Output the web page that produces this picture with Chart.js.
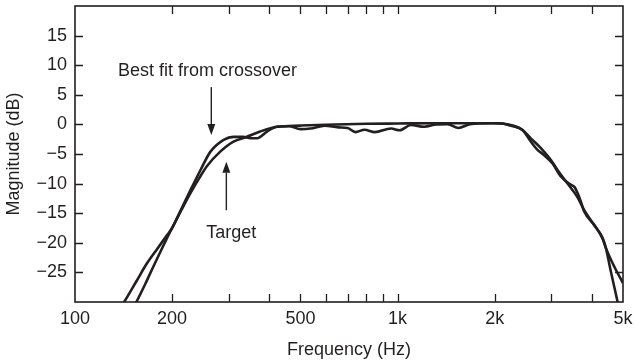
<!DOCTYPE html>
<html>
<head>
<meta charset="utf-8">
<script src="https://cdn.jsdelivr.net/npm/chart.js@4/dist/chart.umd.min.js"></script>
<style>
  html, body { margin: 0; padding: 0; background: #ffffff; }
  #wrap { width: 634px; height: 363px; }
  canvas { display: block; }
</style>
</head>
<body>
<div id="wrap"><canvas id="c" width="634" height="363"></canvas></div>
<script>
// ---- data ----
const xTickValues = [100, 200, 500, 1000, 2000, 5000];
const xTickLabels = ['100', '200', '500', '1k', '2k', '5k'];
const xMinorTicks = [300, 400, 600, 700, 800, 900, 3000, 4000];
const yTickValues = [15, 10, 5, 0, -5, -10, -15, -20, -25];
const yTickLabels = ['15', '10', '5', '0', '\u22125', '\u221210', '\u221215', '\u221220', '\u221225'];

const bestFitFreq = [138, 142, 155, 167, 180, 193, 200, 214, 228, 245, 263, 289, 310, 332, 350, 367, 394, 423, 460, 500, 537, 595, 655, 700, 740, 790, 850, 955, 1015, 1100, 1210, 1320, 1430, 1545, 1680, 1950, 2090, 2240, 2440, 2588, 2716, 2848, 3023, 3208, 3446, 3540, 3615, 3700, 3790, 4071, 4323, 4426, 4587, 4812, 4900];
const bestFitDb   = [-31, -30, -26.5, -23.5, -21.0, -18.7, -17.5, -14.2, -11.1, -7.7, -4.6, -2.6, -2.1, -2.1, -2.35, -2.35, -1.2, -0.4, -0.3, -0.8, -0.7, -0.2, -0.5, -0.6, -1.3, -0.9, -1.3, -0.7, -1.0, -0.1, -0.4, 0.0, 0.05, -0.6, 0.05, 0.2, 0.2, -0.2, -0.95, -2.9, -4.3, -5.2, -6.6, -8.8, -10.2, -10.6, -11.6, -13.0, -14.7, -17.0, -19.2, -20.9, -24.9, -30, -32];

const targetFreq = [150, 155, 165, 175, 187, 200, 214, 228, 242, 256, 282, 310, 341, 375, 423, 500, 600, 800, 1000, 1300, 1700, 2000, 2243, 2440, 2588, 2782, 2988, 3133, 3365, 3615, 3790, 4071, 4323, 4426, 4696, 5000];
const targetDb   = [-31.5, -30, -27.0, -24.0, -20.7, -17.5, -14.4, -11.6, -9.2, -7.1, -4.6, -2.9, -2.1, -1.2, -0.4, -0.2, -0.05, 0.1, 0.15, 0.2, 0.2, 0.2, -0.1, -0.95, -2.35, -4.0, -6.0, -7.7, -10.0, -12.3, -14.5, -17.0, -19.3, -20.9, -24.0, -26.8];

// ---- styling ----
const INK = '#231f20';
const FONT_FAMILY = "'Liberation Sans', Arial, Helvetica, sans-serif";
Chart.defaults.font.family = FONT_FAMILY;
Chart.defaults.font.size = 18;
Chart.defaults.color = INK;

const toPoints = (xs, ys) => xs.map((x, i) => ({ x: x, y: ys[i] }));

// annotations, anchored in data coordinates
const annotations = [
  { text: 'Best fit from crossover', textX: 136, textY: 8.2, arrowX: 264.6, arrowFrom: 6.3, arrowTo: -1.8 },
  { text: 'Target', textX: 255, textY: -19.2, arrowX: 294.6, arrowFrom: -14.5, arrowTo: -6.3 }
];

const framePlugin = {
  id: 'frameTicks',
  afterDatasetsDraw(chart) {
    const { ctx, chartArea: a, scales } = chart;
    const xs = scales.x, ys = scales.y;
    const tl = 8;
    ctx.save();
    ctx.strokeStyle = INK;
    ctx.lineWidth = 1.3;
    const xt = xTickValues.slice(1, -1).concat(xMinorTicks);
    xt.forEach(v => {
      const px = Math.round(xs.getPixelForValue(v)) + 0.5;
      ctx.beginPath();
      ctx.moveTo(px, a.bottom); ctx.lineTo(px, a.bottom - tl);
      ctx.moveTo(px, a.top); ctx.lineTo(px, a.top + tl);
      ctx.stroke();
    });
    yTickValues.forEach(v => {
      const py = Math.round(ys.getPixelForValue(v)) + 0.5;
      ctx.beginPath();
      ctx.moveTo(a.left, py); ctx.lineTo(a.left + tl, py);
      ctx.moveTo(a.right, py); ctx.lineTo(a.right - tl, py);
      ctx.stroke();
    });
    ctx.lineWidth = 1.6;
    ctx.strokeRect(a.left, a.top, a.right - a.left, a.bottom - a.top);

    // annotations
    ctx.fillStyle = INK;
    ctx.font = '18px ' + FONT_FAMILY;
    ctx.textAlign = 'left';
    ctx.textBaseline = 'alphabetic';
    annotations.forEach(an => {
      ctx.fillText(an.text, xs.getPixelForValue(an.textX), ys.getPixelForValue(an.textY));
      const ax = xs.getPixelForValue(an.arrowX);
      const y0 = ys.getPixelForValue(an.arrowFrom);
      const y1 = ys.getPixelForValue(an.arrowTo);
      const dir = y1 > y0 ? 1 : -1;
      const headLen = 11, headHalf = 4;
      ctx.lineWidth = 1.4;
      ctx.beginPath();
      ctx.moveTo(ax, y0);
      ctx.lineTo(ax, y1 - dir * headLen);
      ctx.stroke();
      ctx.beginPath();
      ctx.moveTo(ax, y1);
      ctx.lineTo(ax - headHalf, y1 - dir * headLen);
      ctx.lineTo(ax + headHalf, y1 - dir * headLen);
      ctx.closePath();
      ctx.fill();
    });
    ctx.restore();
  }
};

const lineStyle = {
  borderColor: INK,
  borderWidth: 2.6,
  pointRadius: 0,
  fill: false,
  cubicInterpolationMode: 'monotone',
  clip: 0
};

new Chart(document.getElementById('c'), {
  type: 'line',
  data: {
    datasets: [
      Object.assign({ label: 'Best fit from crossover', data: toPoints(bestFitFreq, bestFitDb) }, lineStyle),
      Object.assign({ label: 'Target', data: toPoints(targetFreq, targetDb) }, lineStyle)
    ]
  },
  options: {
    responsive: false,
    animation: false,
    devicePixelRatio: 1,
    parsing: false,
    layout: { padding: { top: 6, right: 11, bottom: 0, left: 0 } },
    plugins: { legend: { display: false }, tooltip: { enabled: false } },
    scales: {
      x: {
        type: 'logarithmic',
        min: 100, max: 5000,
        afterBuildTicks: s => { s.ticks = xTickValues.map(v => ({ value: v })); },
        afterFit: s => { s.height = 61; s.paddingLeft = 0; s.paddingRight = 0; s.paddingTop = 0; s.paddingBottom = 0; },
        ticks: {
          autoSkip: false, maxRotation: 0, minRotation: 0, padding: 6, color: INK,
          font: { size: 18 },
          callback: (v) => { const i = xTickValues.indexOf(v); return i >= 0 ? xTickLabels[i] : ''; }
        },
        grid: { display: false, drawTicks: false },
        border: { display: false },
        title: { display: true, text: 'Frequency (Hz)', color: INK, font: { size: 18 }, padding: { top: 0, bottom: 2 } }
      },
      y: {
        type: 'linear',
        min: -30, max: 20,
        afterBuildTicks: s => { s.ticks = yTickValues.map(v => ({ value: v })); },
        afterFit: s => { s.width = 75; s.paddingLeft = 0; s.paddingRight = 0; s.paddingTop = 0; s.paddingBottom = 0; },
        ticks: {
          padding: 8, color: INK, font: { size: 18 },
          callback: (v) => { const i = yTickValues.indexOf(v); return i >= 0 ? yTickLabels[i] : ''; }
        },
        grid: { display: false, drawTicks: false },
        border: { display: false },
        title: { display: true, text: 'Magnitude (dB)', color: INK, font: { size: 18 }, padding: { top: 3, bottom: 0 } }
      }
    }
  },
  plugins: [framePlugin]
});
</script>
</body>
</html>
